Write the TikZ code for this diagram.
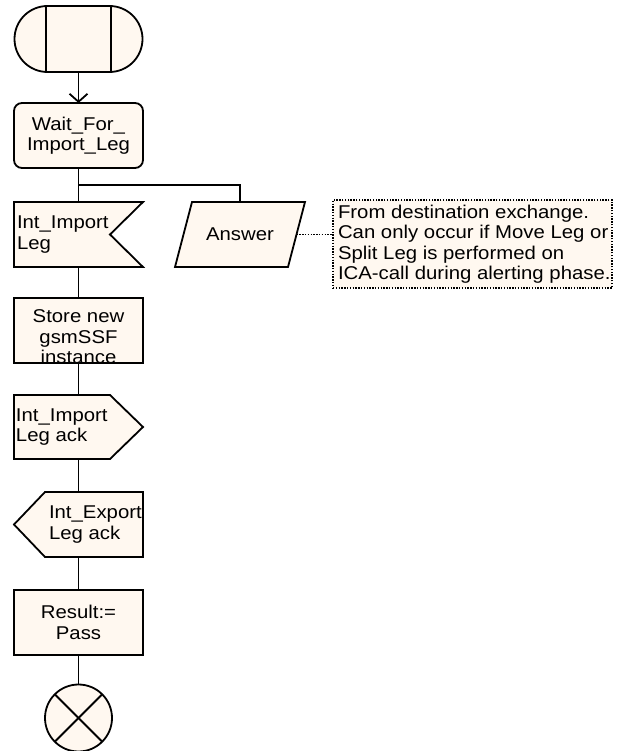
\documentclass[tikz,border=0pt]{standalone}
\usepackage{fontspec}
\setmainfont[FakeStretch=1.1]{Liberation Sans}
\usetikzlibrary{arrows.meta}
\definecolor{sdlfill}{RGB}{255,248,240}
\begin{document}
\begin{tikzpicture}[x=1pt,y=-1pt,line width=1.8pt,
  every node/.style={font=\fontsize{18.5pt}{20.5pt}\selectfont, inner sep=0pt, outer sep=0pt},
  sdl/.style={draw=black, fill=sdlfill, line width=1.8pt},
  boxnode/.style={sdl, rectangle, minimum width=129pt, minimum height=65pt, align=center},
  frame/.style={minimum width=129pt, minimum height=65pt},
  lbl/.style={align=left, anchor=west},
  flow/.style={draw=black, line width=1.8pt},
  note/.style={draw=black, line width=1.3pt, dash pattern=on 1.4pt off 1.4pt}
]
\useasboundingbox (0,0) rectangle (617,751);

% start symbol
\node[sdl, rectangle, rounded corners=33pt, minimum width=128pt, minimum height=66pt] (start) at (78.5,39) {};
\draw (46,6) -- (46,72);
\draw (111,6) -- (111,72);

% state
\node[boxnode, rounded corners=8pt] (wait) at (78.5,135.5) {Wait\_For\_\\Import\_Leg};

% input Int_Import Leg
\draw[sdl] (14,202) -- (143,202) -- (110,234.5) -- (143,267) -- (14,267) -- cycle;
\node[frame] (inp1) at (78.5,234.5) {};
\node[lbl] (inp1t) at (17,234.5) {Int\_Import\\Leg};

% input Answer
\draw[sdl] (192,202) -- (305,202) -- (288,267) -- (175,267) -- cycle;
\node[minimum width=113pt, minimum height=65pt] (ans) at (240,234.5) {Answer};
\coordinate (ansE) at (296.5,234.5);

% comment
\node[note, fill=sdlfill, minimum width=279pt, minimum height=88pt, anchor=north west] (cmt) at (333,200) {};
\node[lbl] (cmtt) at (338,244) {From destination exchange.\\Can only occur if Move Leg or\\Split Leg is performed on\\ICA-call during alerting phase.};

% task
\node[boxnode] (store) at (78.5,330.5) {};
\node[align=center] (storet) at (78.5,337) {Store new\\gsmSSF\\instance};

% output Int_Import Leg ack
\draw[sdl] (14,395) -- (110,395) -- (143,427) -- (110,459) -- (14,459) -- cycle;
\node[frame] (out1) at (78.5,427) {};
\node[lbl] (out1t) at (16,427) {Int\_Import\\Leg ack};

% input Int_Export Leg ack
\draw[sdl] (45,492) -- (143,492) -- (143,557) -- (45,557) -- (14,524.5) -- cycle;
\node[frame] (out2) at (78.5,524.5) {};
\node[lbl] (out2t) at (49,524.5) {Int\_Export\\Leg ack};

% task Result
\node[boxnode] (res) at (78.5,622.5) {Result:=\\Pass};

% stop
\node[sdl, circle, minimum size=67pt] (stop) at (78.5,718) {};
\draw (stop.north west) -- (stop.south east);
\draw (stop.north east) -- (stop.south west);

% connectors
\draw[flow, -{Straight Barb[length=8pt,width=18pt]}] (start.south) -- (wait.north);
\draw[flow] (wait.south) -- (inp1.north);
\coordinate (br) at (78.5,185);
\draw[flow] (br) -| (ans.north);
\draw[note] (ansE) -- (ansE -| cmt.west);
\draw[flow] (inp1.south) -- (store.north);
\draw[flow] (store.south) -- (out1.north);
\draw[flow] (out1.south) -- (out2.north);
\draw[flow] (out2.south) -- (res.north);
\draw[flow] (res.south) -- (stop.north);
\end{tikzpicture}
\end{document}
